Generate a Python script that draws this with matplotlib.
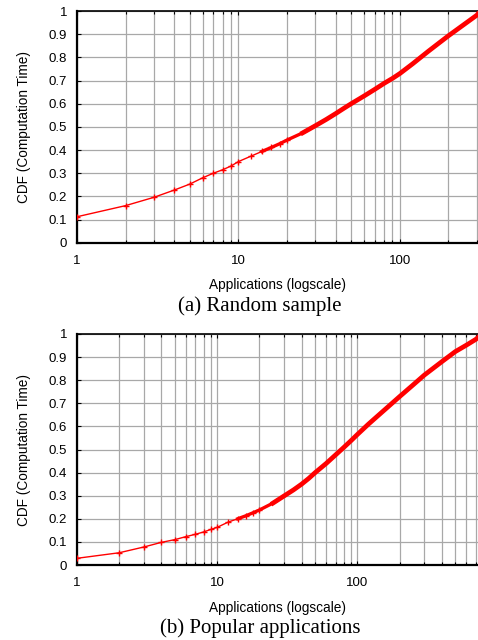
import numpy as np
import matplotlib
matplotlib.use('Agg')
import matplotlib.pyplot as plt
from matplotlib.ticker import FixedLocator, LogLocator, NullFormatter

# (a) Random sample
top_x = [1, 2, 3, 4, 5, 6, 7, 8, 9, 10, 12, 14, 16, 18, 20, 25, 30, 35, 40,
         45, 50, 60, 70, 80, 90, 100, 120, 150, 175, 200, 250, 300, 305]
top_y = [0.112, 0.16, 0.196, 0.227, 0.253, 0.28, 0.30, 0.315, 0.331, 0.35,
         0.374, 0.394, 0.411, 0.427, 0.443, 0.474, 0.505, 0.532, 0.557, 0.58,
         0.60, 0.633, 0.662, 0.688, 0.709, 0.73, 0.772, 0.826, 0.862, 0.893,
         0.942, 0.982, 0.988]

# (b) Popular applications
bot_x = [1, 2, 3, 4, 5, 6, 7, 8, 9, 10, 12, 14, 16, 18, 20, 25, 30, 35, 40,
         45, 50, 60, 70, 80, 90, 100, 120, 150, 200, 250, 300, 400, 500, 600,
         700, 725]
bot_y = [0.029, 0.053, 0.078, 0.098, 0.11, 0.123, 0.133, 0.143, 0.154, 0.163,
         0.186, 0.20, 0.213, 0.226, 0.238, 0.268, 0.299, 0.325, 0.35, 0.375,
         0.40, 0.44, 0.477, 0.509, 0.538, 0.565, 0.61, 0.662, 0.729, 0.78,
         0.822, 0.88, 0.924, 0.952, 0.977, 0.985]

captions = ['(a) Random sample', '(b) Popular applications']
yticks = [0, 0.1, 0.2, 0.3, 0.4, 0.5, 0.6, 0.7, 0.8, 0.9, 1]
yticklabels = ['0', '0.1', '0.2', '0.3', '0.4', '0.5', '0.6', '0.7', '0.8', '0.9', '1']

plt.rcParams['font.family'] = 'Liberation Sans'

W, H = 478, 640
fig = plt.figure(figsize=(W / 100, H / 100), dpi=100)

# axes boxes in pixels: left, top, right, bottom
boxes = [(77, 11, 478, 242.7), (77, 334, 478, 565)]
series = [(top_x, top_y, 305), (bot_x, bot_y, 725)]


def draw(box, data, caption):
    l, t, r, b = box
    ax = fig.add_axes([l / W, 1 - b / H, (r - l) / W, (b - t) / H])
    x, y, xmax = data
    x = np.array(x)
    y = np.array(y)
    ax.set_xscale('log')
    ax.set_xlim(1, xmax)
    ax.set_ylim(0, 1)

    sparse = x <= 20
    ax.plot(x, y, color='#ff0000', lw=1.0, zorder=3)
    ax.plot(x[sparse], y[sparse], ls='none', color='#ff0000', marker='+',
            ms=5, mew=1.0, zorder=3)
    mid = (x >= 14) & (x <= 30)
    ax.plot(x[mid], y[mid], color='#ff0000', lw=2.4,
            solid_joinstyle='round', zorder=3)
    dense = x >= 25
    ax.plot(x[dense], y[dense], color='#ff0000', lw=3.4,
            solid_joinstyle='round', zorder=3)

    ax.xaxis.set_major_locator(FixedLocator([1, 10, 100]))
    ax.xaxis.set_minor_locator(LogLocator(base=10, subs=np.arange(2, 10)))
    ax.xaxis.set_minor_formatter(NullFormatter())
    ax.set_xticklabels(['1', '10', '100'])
    ax.set_yticks(yticks)
    ax.set_yticklabels(yticklabels)
    ax.tick_params(which='both', direction='in', top=True, right=False,
                   labelsize=9.5, pad=7, length=3, width=0.8)
    ax.tick_params(axis='x', pad=9)
    ax.tick_params(which='minor', length=2)

    ax.grid(True, which='major', color='#a8a8a8', lw=0.9)
    ax.grid(True, which='minor', axis='x', color='#a8a8a8', lw=0.9)
    ax.set_axisbelow(True)

    for s in ['left', 'bottom']:
        ax.spines[s].set_linewidth(1.6)
    ax.spines['top'].set_linewidth(1.2)
    ax.spines['right'].set_visible(False)

    ax.set_xlabel('Applications (logscale)', fontsize=9.8, labelpad=8)
    ax.set_ylabel('CDF (Computation Time)', fontsize=9.8, labelpad=13)

    fig.text(260 / W, 1 - (b + 63) / H, caption, fontsize=15,
             family='Liberation Serif', ha='center', va='center')


for box, data, cap in zip(boxes, series, captions):
    draw(box, data, cap)

fig.savefig('out.png', dpi=100)
